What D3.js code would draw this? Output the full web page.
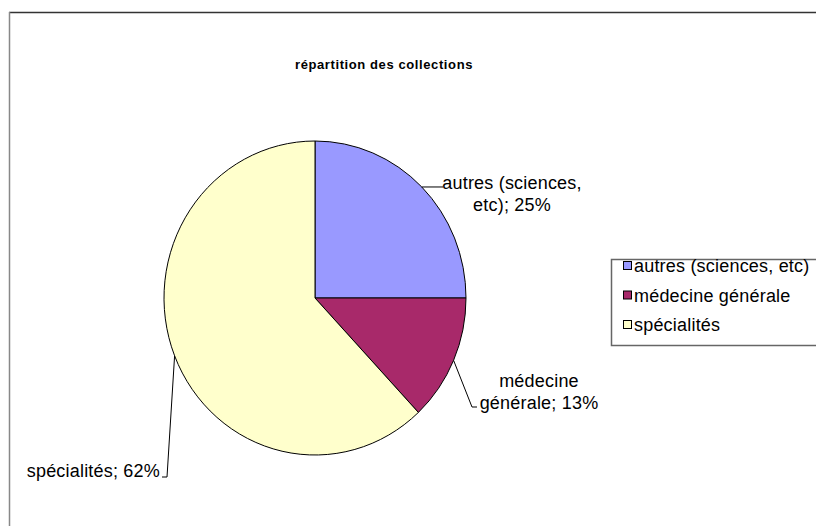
<!DOCTYPE html>
<html><head><meta charset="utf-8">
<script src="https://cdn.jsdelivr.net/npm/d3@7"></script>
<style>body{margin:0;background:#fff}svg{display:block;font-family:"Liberation Sans",Arial,sans-serif}</style>
</head><body>
<svg id="c" width="816" height="526"></svg>
<script>
const categories = ["autres (sciences, etc)", "médecine générale", "spécialités"];
const values = [25, 13, 62];
const colors = ["#9999FF", "#A8296A", "#FFFFCC"];
const labelLines = [["autres (sciences,", "etc); 25%"], ["médecine", "générale; 13%"], ["spécialités; 62%"]];
const title = "répartition des collections";

const svg = d3.select("#c");
// frame
svg.append("line").attr("x1",9).attr("x2",816).attr("y1",12.5).attr("y2",12.5).attr("stroke","#333").attr("stroke-width",1.5);
svg.append("line").attr("x1",9.5).attr("x2",9.5).attr("y1",12).attr("y2",526).attr("stroke","#888").attr("stroke-width",1.5);

svg.append("text").attr("x",384).attr("y",69).attr("text-anchor","middle")
  .attr("font-size",13).attr("letter-spacing",0.6).attr("font-weight","bold").text(title);

const cx = 315, cy = 298, rx = 151, ry = 157, R = 100;
const pie = d3.pie().sort(null).value(d=>d)(values);
const arc = d3.arc().innerRadius(0).outerRadius(R);
const g = svg.append("g").attr("transform",`translate(${cx},${cy}) scale(${rx/R},${ry/R})`);
g.selectAll("path").data(pie).join("path")
  .attr("d",arc).attr("fill",(d,i)=>colors[i])
  .attr("stroke","#000").attr("stroke-width",1).attr("vector-effect","non-scaling-stroke");

// label anchors on ellipse edge at slice mid-angle
function edge(d){const a=(d.startAngle+d.endAngle)/2;return [cx+rx*Math.sin(a), cy-ry*Math.cos(a)];}
const labelCfg = [
  {pts:(p)=>[p,[443,p[1]]], x:512, y:189, anchor:"middle"},
  {pts:(p)=>[p,[472,407],[477,407]], x:539, y:387, anchor:"middle"},
  {pts:(p)=>[p,[167,477],[162,477]], x:160, y:477, anchor:"end"}
];
pie.forEach((d,i)=>{
  const p = edge(d), c = labelCfg[i];
  svg.append("path").attr("d", d3.line()(c.pts(p))).attr("fill","none").attr("stroke","#000").attr("stroke-width",1);
  const t = svg.append("text").attr("font-size",18).attr("letter-spacing",0.2).attr("text-anchor",c.anchor).attr("fill","#000");
  labelLines[i].forEach((ln,j)=>t.append("tspan").attr("x",c.x).attr("y",c.y+j*22).text(ln));
});

// legend
svg.append("rect").attr("x",611.5).attr("y",259.5).attr("width",220).attr("height",86)
  .attr("fill","#fff").attr("stroke","#666").attr("stroke-width",1.5);
const ly = d3.scalePoint().domain(categories).range([266,325]);
categories.forEach((c,i)=>{
  svg.append("rect").attr("x",623.5).attr("y",ly(c)-4.5).attr("width",8).attr("height",8)
    .attr("fill",colors[i]).attr("stroke","#000").attr("stroke-width",1);
  svg.append("text").attr("x",634).attr("y",ly(c)+6).attr("font-size",18).attr("letter-spacing",0.2).text(c);
});
</script>
</body></html>
